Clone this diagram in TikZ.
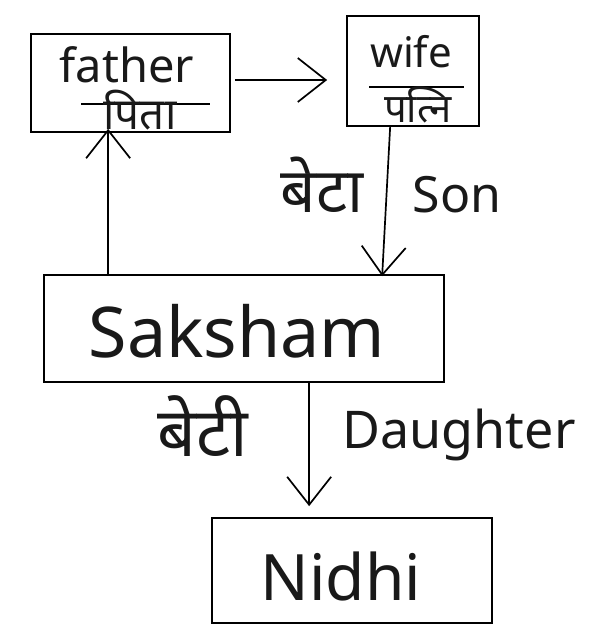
\documentclass[tikz,border=0pt]{standalone}
\usepackage{fontspec}
\setmainfont{Noto Sans}
\newfontfamily\deva[Script=Devanagari]{Noto Sans}
\usetikzlibrary{arrows.meta,calc}
\tikzset{
  box/.style={draw, line width=1.7pt, rectangle, inner sep=0pt},
  lbl/.style={anchor=base, inner sep=0pt, text=black!90},
  conn/.style={line width=1.7pt, -{Straight Barb[length=28pt,width=44pt,line width=1.7pt]}},
  divider/.style={line width=1.7pt}
}
\begin{document}
\begin{tikzpicture}[x=1pt,y=-1pt]
\useasboundingbox (0,0) rectangle (597,629);
% boxes
\node[box, minimum width=199pt, minimum height=98pt] (father) at (130.5,83) {};
\node[box, minimum width=132pt, minimum height=110pt] (wife) at (413,71) {};
\node[box, minimum width=400pt, minimum height=107pt] (saksham) at (244,328.5) {};
\node[box, minimum width=280pt, minimum height=105pt] (nidhi) at (352,570.5) {};
% dividers
\coordinate (fd1) at ($(father.south west)+(51,-29)$);
\coordinate (fd2) at ($(father.south west)+(180,-29)$);
\draw[divider] (fd1) -- (fd2);
\coordinate (wd1) at ($(wife.north west)+(23,72)$);
\coordinate (wd2) at ($(wife.north west)+(118,72)$);
\draw[divider] (wd1) -- (wd2);
% texts
\node[lbl, font=\fontsize{47}{47}\selectfont] (tfather) at (127,82) {father};
\node[lbl, font=\deva\fontsize{44}{44}\selectfont] (tpita) at (140,129) {पिता};
\node[lbl, font=\fontsize{42}{42}\selectfont] (twife) at (411,67) {wife};
\node[lbl, font=\deva\fontsize{40}{40}\selectfont] (tpatni) at (418,122) {पत्नि};
\node[lbl, font=\deva\fontsize{62}{62}\selectfont] (tbeta) at (322,212) {बेटा};
\node[lbl, font=\fontsize{50}{50}\selectfont] (tson) at (457,212) {Son};
\node[lbl, font=\fontsize{70}{70}\selectfont] (tsaksham) at (237,357) {Saksham};
\node[lbl, font=\deva\fontsize{68}{68}\selectfont] (tbeti) at (203,456) {बेटी};
\node[lbl, font=\fontsize{52}{52}\selectfont] (tdaughter) at (459,448) {Daughter};
\node[lbl, font=\fontsize{64}{64}\selectfont] (tnidhi) at (341,600) {Nidhi};
% connectors
\draw[conn] ($(father.east)+(4,-3)$) -- ($(wife.west)+(-19,9)$);
\draw[conn] ($(saksham.north west)+(65,0)$) -- ($(father.south west)+(78,-4)$);
\draw[conn] ($(wife.south west)+(44,0)$) -- ($(saksham.north west)+(339,2)$);
\draw[conn] ($(saksham.south west)+(266,0)$) -- ($(nidhi.north west)+(98,-11)$);
\end{tikzpicture}
\end{document}
